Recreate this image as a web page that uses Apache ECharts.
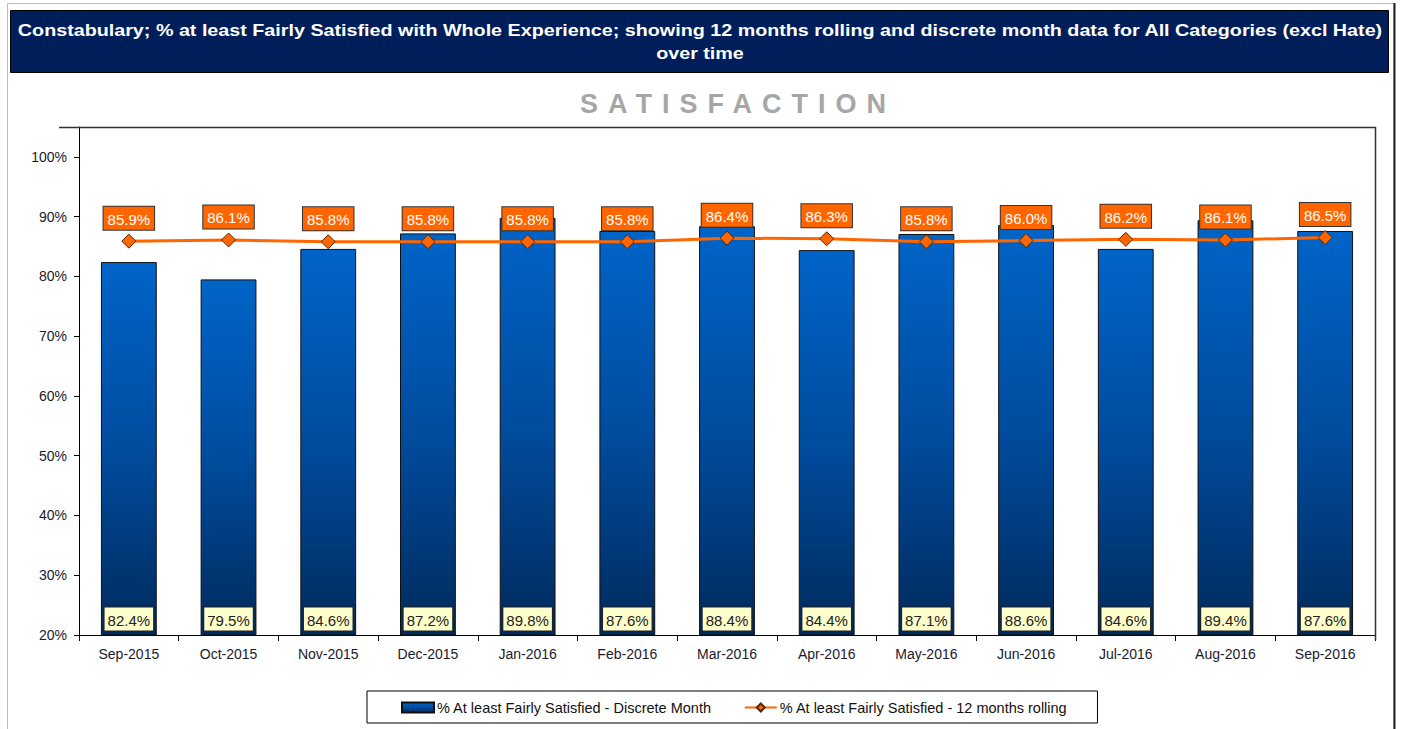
<!DOCTYPE html>
<html>
<head>
<meta charset="utf-8">
<script src="https://cdn.jsdelivr.net/npm/echarts@6/dist/echarts.min.js"></script>
<style>
    html, body { margin: 0; padding: 0; background: #fff; }
    #wrap { position: relative; width: 1401px; height: 729px; }
    #chart { width: 1401px; height: 729px; }
    #subTitle {
        position: absolute; left: 0; top: 86px; width: 1476px; text-align: center;
        font-family: 'Liberation Sans', Arial, sans-serif; font-weight: bold;
        font-size: 27px; letter-spacing: 10px; color: #a6a6a6; line-height: 36px;
    }
</style>
</head>
<body>
<div id="wrap">
    <div id="chart"></div>
    <div id="subTitle">SATISFACTION</div>
</div>
<script>
// months on the x axis
const months = ['Sep-2015', 'Oct-2015', 'Nov-2015', 'Dec-2015', 'Jan-2016', 'Feb-2016', 'Mar-2016',
    'Apr-2016', 'May-2016', 'Jun-2016', 'Jul-2016', 'Aug-2016', 'Sep-2016'];
// % at least fairly satisfied - discrete month
const discreteMonth = [82.4, 79.5, 84.6, 87.2, 89.8, 87.6, 88.4, 84.4, 87.1, 88.6, 84.6, 89.4, 87.6];
// % at least fairly satisfied - 12 months rolling
const rolling12 = [85.9, 86.1, 85.8, 85.8, 85.8, 85.8, 86.4, 86.3, 85.8, 86.0, 86.2, 86.1, 86.5];
// y axis tick labels
const yTicks = [20, 30, 40, 50, 60, 70, 80, 90, 100];

const titleText = 'Constabulary; % at least Fairly Satisfied with Whole Experience; showing 12 months rolling and discrete month data for All Categories (excl Hate)';
const fontFam = "'Liberation Sans', Arial, sans-serif";

let chart = echarts.init(document.getElementById('chart'), null, { renderer: 'svg' });

let option = {
    animation: false,
    textStyle: { fontFamily: fontFam },
    graphic: [
        {
            type: 'rect', z: 0, silent: true,
            shape: { x: 7.5, y: 3.5, width: 1386, height: 740 },
            style: { fill: 'none', stroke: '#bdbdbd', lineWidth: 1 }
        },
        {
            type: 'line', silent: true,
            shape: { x1: 1394.5, y1: 3, x2: 1394.5, y2: 729 },
            style: { stroke: '#222', lineWidth: 2 }
        },
        {
            type: 'rect', silent: true,
            shape: { x: 10.5, y: 10.5, width: 1378, height: 62 },
            style: { fill: '#001e5a', stroke: '#000', lineWidth: 1 }
        },
        {
            type: 'text', silent: true, x: 700, y: 30, scaleX: 1.16,
            style: {
                text: titleText, fill: '#fff', font: 'bold 17px ' + fontFam,
                align: 'center', verticalAlign: 'middle'
            }
        },
        {
            type: 'text', silent: true, x: 700, y: 53, scaleX: 1.16,
            style: {
                text: 'over time', fill: '#fff', font: 'bold 17px ' + fontFam,
                align: 'center', verticalAlign: 'middle'
            }
        },
        {
            type: 'polyline', silent: true, z: 1,
            shape: { points: [[59, 127.5], [1375.5, 127.5], [1375.5, 640]] },
            style: { fill: 'none', stroke: '#333', lineWidth: 1.5 }
        }
    ],
    legend: {
        left: 367,
        top: 691,
        padding: [9, 30, 8, 34],
        borderColor: '#000',
        borderWidth: 1,
        itemGap: 32,
        itemWidth: 32,
        itemHeight: 10,
        textStyle: { fontSize: 14.5, color: '#111', padding: [0, 0, 0, -2] },
        data: [
            { name: '% At least Fairly Satisfied - Discrete Month', icon: 'rect' },
            { name: '% At least Fairly Satisfied - 12 months rolling' }
        ]
    },
    grid: {
        left: 79,
        right: 26,
        top: 127,
        bottom: 94
    },
    xAxis: {
        type: 'category',
        data: months,
        axisLine: { lineStyle: { color: '#000', width: 1 } },
        axisTick: { show: true, length: 6, lineStyle: { color: '#000' } },
        axisLabel: { fontSize: 14, color: '#1a1a2e', margin: 12 }
    },
    yAxis: {
        type: 'value',
        min: 20,
        max: 105,
        interval: 10,
        axisLine: { show: true, lineStyle: { color: '#000', width: 1 } },
        axisTick: { show: true, length: 5, customValues: yTicks, lineStyle: { color: '#000' } },
        axisLabel: {
            fontSize: 14, color: '#1a1a2e', margin: 12,
            customValues: yTicks,
            formatter: function (v) { return v + '%'; }
        },
        splitLine: { show: false }
    },
    series: [
        {
            name: '% At least Fairly Satisfied - Discrete Month',
            type: 'bar',
            data: discreteMonth,
            barWidth: '56%',
            itemStyle: {
                borderColor: '#111',
                borderWidth: 1,
                color: new echarts.graphic.LinearGradient(0, 0, 0, 1, [
                    { offset: 0, color: '#0064c8' },
                    { offset: 0.5, color: '#004c9e' },
                    { offset: 1, color: '#002a5c' }
                ])
            },
            label: {
                show: true,
                position: 'insideBottom',
                distance: 5,
                fontSize: 15,
                color: '#222',
                backgroundColor: '#ffffcc',
                borderColor: '#222',
                borderWidth: 1,
                padding: [5, 3, 3, 3],
                formatter: function (p) { return p.value.toFixed(1) + '%'; }
            }
        },
        {
            name: '% At least Fairly Satisfied - 12 months rolling',
            type: 'line',
            data: rolling12,
            symbol: 'diamond',
            symbolSize: 14,
            lineStyle: { color: '#ff6600', width: 3 },
            itemStyle: { color: '#ff6600', borderColor: '#5a2600', borderWidth: 1 },
            label: {
                show: true,
                position: 'top',
                distance: 4,
                fontSize: 15,
                color: '#fff',
                backgroundColor: '#ff6600',
                borderColor: '#333',
                borderWidth: 1,
                padding: [5, 4, 3, 4],
                formatter: function (p) { return p.value.toFixed(1) + '%'; }
            },
            z: 5
        }
    ]
};
chart.setOption(option, true);
</script>
</body>
</html>
